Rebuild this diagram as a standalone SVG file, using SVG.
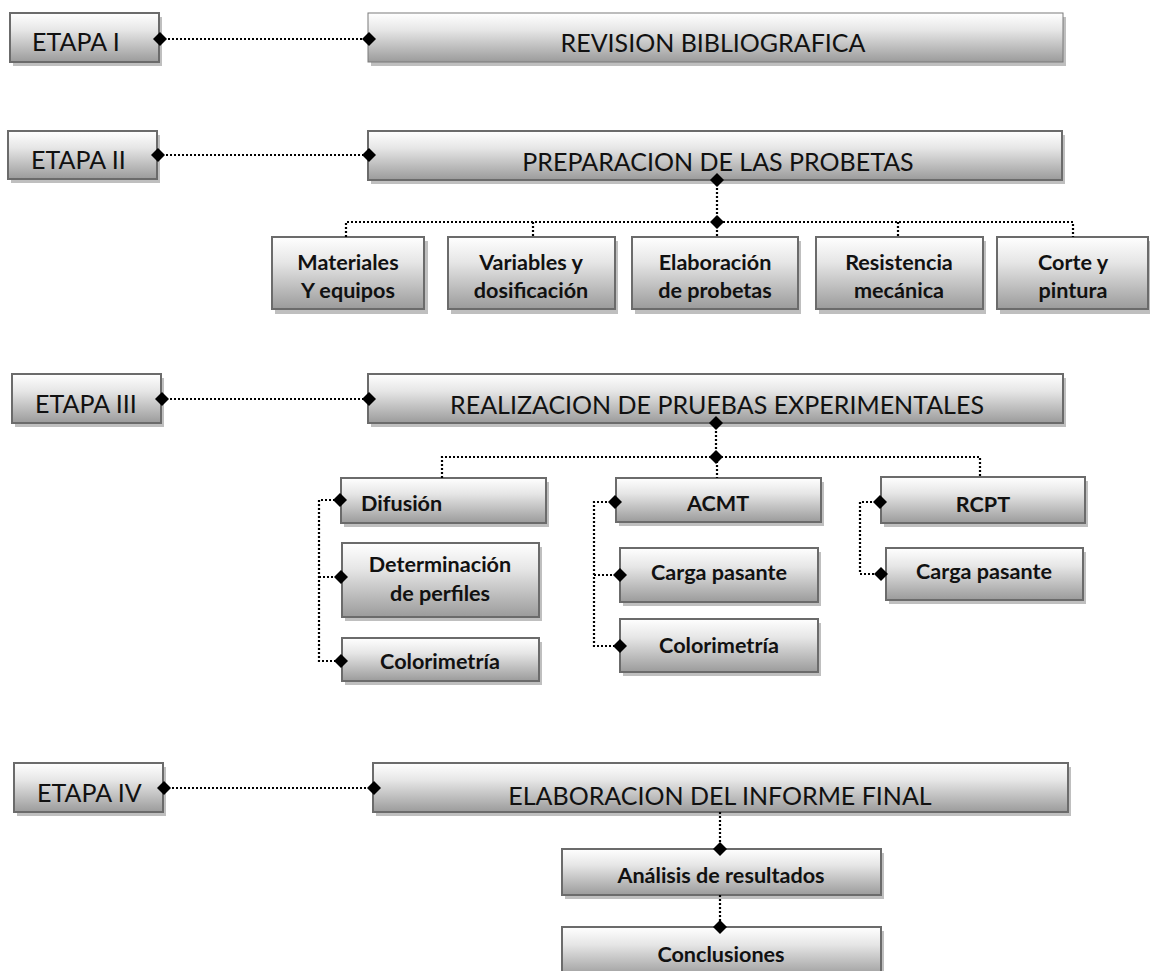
<svg xmlns="http://www.w3.org/2000/svg" width="1150" height="971" viewBox="0 0 1150 971">
<defs>
<linearGradient id="g" x1="0" y1="0" x2="0" y2="1">
<stop offset="0" stop-color="#ffffff"/>
<stop offset="0.35" stop-color="#e6e6e6"/>
<stop offset="1" stop-color="#9b9b9b"/>
</linearGradient>
</defs>
<style>
.sh{fill:#bfbfbf}
.bx{fill:url(#g);stroke:#6b6b6b;stroke-width:2}
.bt{fill:url(#g);stroke:#7a7a7a;stroke-width:1}
.t{font-family:Lato,"Liberation Sans",sans-serif;font-size:25px;fill:#111}
.b{font-family:Lato,"Liberation Sans",sans-serif;font-size:21.6px;font-weight:bold;fill:#111;text-anchor:middle}
.c{text-anchor:middle}
.d{fill:none;stroke:#000;stroke-width:2.2;stroke-dasharray:2 2}
.dm{fill:#000}
</style>
<rect width="1150" height="971" fill="#fff"/>

<g id="etapa1"><rect class="sh" x="13" y="17" width="149" height="49"/><rect class="bx" x="10" y="13" width="149" height="49"/><text class="t" x="32" y="51">ETAPA I</text></g>
<g id="revision"><rect class="sh" x="371" y="17" width="695" height="49"/><rect class="bt" x="368" y="13" width="695" height="49"/><text class="t c" x="713" y="52">REVISION BIBLIOGRAFICA</text></g>

<g id="etapa2"><rect class="sh" x="11" y="135" width="149" height="48"/><rect class="bx" x="8" y="131" width="149" height="48"/><text class="t" x="31" y="169">ETAPA II</text></g>
<g id="preparacion"><rect class="sh" x="371" y="135" width="694" height="49"/><rect class="bx" x="368" y="131" width="694" height="49"/><text class="t c" x="718" y="171">PREPARACION DE LAS PROBETAS</text></g>

<g id="materiales"><rect class="sh" x="275" y="241" width="153" height="73"/><rect class="bx" x="272" y="237" width="152" height="72"/><text class="b" x="348" y="270">Materiales</text><text class="b" x="348" y="298">Y equipos</text></g>
<g id="variables"><rect class="sh" x="451" y="241" width="167" height="73"/><rect class="bx" x="448" y="237" width="167" height="72"/><text class="b" x="531" y="270">Variables y</text><text class="b" x="531" y="298">dosificación</text></g>
<g id="elaboracion-probetas"><rect class="sh" x="635" y="241" width="166" height="73"/><rect class="bx" x="632" y="237" width="166" height="72"/><text class="b" x="715" y="270">Elaboración</text><text class="b" x="715" y="298">de probetas</text></g>
<g id="resistencia"><rect class="sh" x="819" y="241" width="167" height="73"/><rect class="bx" x="816" y="237" width="167" height="72"/><text class="b" x="899" y="270">Resistencia</text><text class="b" x="899" y="298">mecánica</text></g>
<g id="corte"><rect class="sh" x="1000" y="241" width="152" height="73"/><rect class="bx" x="997" y="237" width="151" height="72"/><text class="b" x="1073" y="270">Corte y</text><text class="b" x="1073" y="298">pintura</text></g>

<g id="etapa3"><rect class="sh" x="15" y="378" width="149" height="49"/><rect class="bx" x="12" y="374" width="149" height="49"/><text class="t" x="35" y="413">ETAPA III</text></g>
<g id="realizacion"><rect class="sh" x="371" y="378" width="695" height="49"/><rect class="bx" x="368" y="374" width="695" height="49"/><text class="t c" x="717" y="414">REALIZACION DE PRUEBAS EXPERIMENTALES</text></g>

<g id="difusion"><rect class="sh" x="344" y="482" width="205" height="45"/><rect class="bx" x="341" y="478" width="205" height="45"/><text class="b" x="361" y="511" style="text-anchor:start">Difusión</text></g>
<g id="determinacion"><rect class="sh" x="345" y="547" width="197" height="74"/><rect class="bx" x="342" y="543" width="197" height="74"/><text class="b" x="440" y="572">Determinación</text><text class="b" x="440" y="601">de perfiles</text></g>
<g id="colorimetria1"><rect class="sh" x="345" y="642" width="197" height="43"/><rect class="bx" x="342" y="638" width="197" height="43"/><text class="b" x="440" y="669">Colorimetría</text></g>

<g id="acmt"><rect class="sh" x="619" y="482" width="205" height="44"/><rect class="bx" x="616" y="478" width="205" height="44"/><text class="b" x="718" y="511">ACMT</text></g>
<g id="carga1"><rect class="sh" x="623" y="552" width="198" height="54"/><rect class="bx" x="620" y="548" width="198" height="54"/><text class="b" x="719" y="580">Carga pasante</text></g>
<g id="colorimetria2"><rect class="sh" x="623" y="623" width="198" height="53"/><rect class="bx" x="620" y="619" width="198" height="53"/><text class="b" x="719" y="653">Colorimetría</text></g>

<g id="rcpt"><rect class="sh" x="884" y="481" width="204" height="46"/><rect class="bx" x="881" y="477" width="204" height="46"/><text class="b" x="983" y="512">RCPT</text></g>
<g id="carga2"><rect class="sh" x="889" y="552" width="197" height="52"/><rect class="bx" x="886" y="548" width="197" height="52"/><text class="b" x="984" y="579">Carga pasante</text></g>

<g id="etapa4"><rect class="sh" x="17" y="767" width="149" height="49"/><rect class="bx" x="14" y="763" width="149" height="49"/><text class="t" x="37" y="802">ETAPA IV</text></g>
<g id="elaboracion-informe"><rect class="sh" x="376" y="767" width="695" height="49"/><rect class="bx" x="373" y="763" width="695" height="49"/><text class="t c" x="720" y="805">ELABORACION DEL INFORME FINAL</text></g>

<g id="analisis"><rect class="sh" x="565" y="853" width="319" height="46"/><rect class="bx" x="562" y="849" width="319" height="46"/><text class="b" x="721" y="883">Análisis de resultados</text></g>
<g id="conclusiones"><rect class="sh" x="565" y="931" width="319" height="50"/><rect class="bx" x="562" y="927" width="319" height="50"/><text class="b" x="721" y="962">Conclusiones</text></g>

<g id="connectors">
<path class="d" d="M160 39H369"/>
<path class="d" d="M158 155H369"/>
<path class="d" d="M162 399H369"/>
<path class="d" d="M164 788H374"/>
<path class="d" d="M717 180V222M346 237V222H1073V237M533 222V237M898 222V237M717 222V237"/>
<path class="d" d="M716 423V457M442 478V457H980V477M717 457V478"/>
<path class="d" d="M339 500H319V661H340M319 577H340"/>
<path class="d" d="M615 502H594V646H620M594 575H620"/>
<path class="d" d="M880 502H860V574H881"/>
<path class="d" d="M720 812V849M720 895V927"/>
<g class="dm">
<path d="M160 32l7 7-7 7-7-7z"/>
<path d="M369 32l7 7-7 7-7-7z"/>
<path d="M158 148l7 7-7 7-7-7z"/>
<path d="M369 148l7 7-7 7-7-7z"/>
<path d="M162 392l7 7-7 7-7-7z"/>
<path d="M369 392l7 7-7 7-7-7z"/>
<path d="M164 781l7 7-7 7-7-7z"/>
<path d="M374 781l7 7-7 7-7-7z"/>
<path d="M717 173l7 7-7 7-7-7z"/>
<path d="M717 215l7 7-7 7-7-7z"/>
<path d="M716 416l7 7-7 7-7-7z"/>
<path d="M716 450l7 7-7 7-7-7z"/>
<path d="M340 493l7 7-7 7-7-7z"/>
<path d="M341 570l7 7-7 7-7-7z"/>
<path d="M341 654l7 7-7 7-7-7z"/>
<path d="M615 495l7 7-7 7-7-7z"/>
<path d="M620 568l7 7-7 7-7-7z"/>
<path d="M620 639l7 7-7 7-7-7z"/>
<path d="M880 495l7 7-7 7-7-7z"/>
<path d="M881 567l7 7-7 7-7-7z"/>
<path d="M720 842l7 7-7 7-7-7z"/>
<path d="M720 920l7 7-7 7-7-7z"/>
</g>
</g>
</svg>
